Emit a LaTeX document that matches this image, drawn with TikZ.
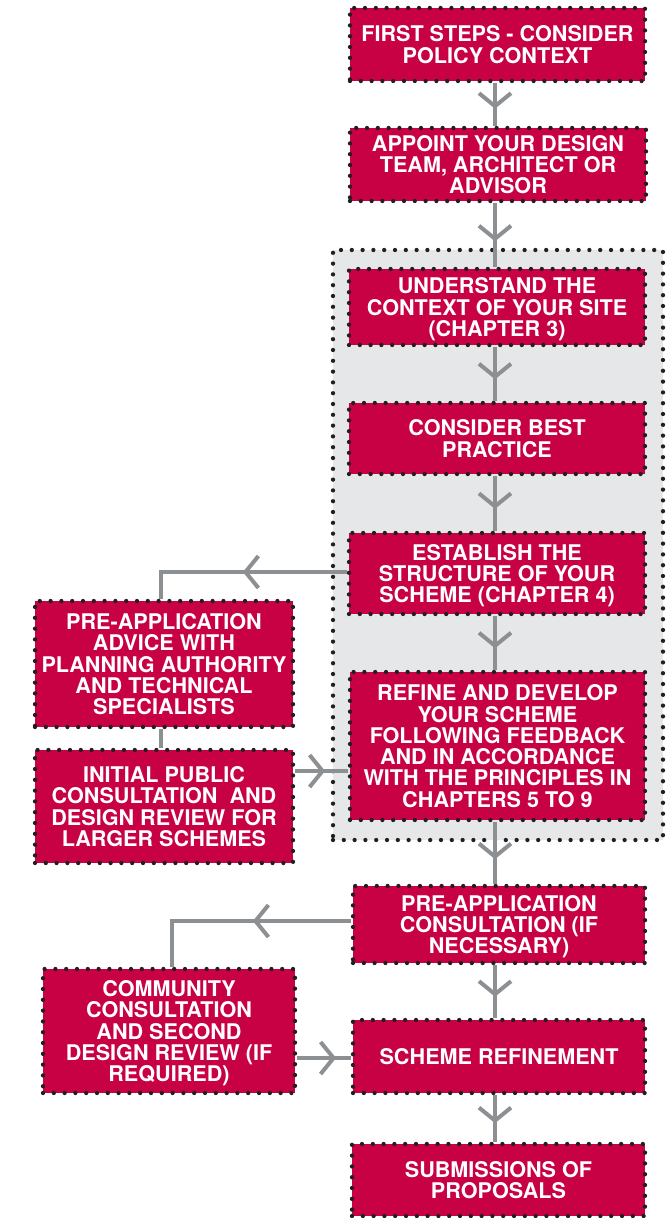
\documentclass[tikz,border=0pt]{standalone}
\usepackage{fontspec}
\setmainfont{TeX Gyre Heros}
\usetikzlibrary{arrows.meta,decorations.markings,calc}
\definecolor{crim}{RGB}{200,0,68}
\definecolor{lgray}{RGB}{141,144,146}
\definecolor{panelc}{RGB}{230,231,232}
\definecolor{dotc}{RGB}{35,31,32}
\tikzset{
  dotborder/.style={draw=dotc, line width=4.3pt, line cap=round, dash pattern=on 0pt off 10.8pt},
  stepbox/.style={dotborder, fill=crim, text=white, font=\bfseries\fontsize{21.6}{21.3}\selectfont, align=center, inner sep=0pt, text depth=0pt},
  conn/.style={draw=lgray, line width=4pt},
  chev/.style={postaction={decorate, decoration={markings, mark=at position #1 with {\arrow{Straight Barb[length=13pt,width=32pt]}}}}},
}
\begin{document}
\begin{tikzpicture}[x=1pt,y=-1pt]
\useasboundingbox (0,0) rectangle (670,1218);
\node[dotborder, fill=panelc, minimum width=330pt, minimum height=590pt, inner sep=0pt] (panel) at (498,545) {};
\coordinate (cx) at (495,0);
\node[stepbox, minimum width=295pt, minimum height=73pt] (B1) at (497.5,44.5) {FIRST STEPS - CONSIDER\\POLICY CONTEXT};
\node[stepbox, minimum width=296pt, minimum height=73pt] (B2) at (498,164.5) {APPOINT YOUR DESIGN\\TEAM, ARCHITECT OR\\ADVISOR};
\node[stepbox, minimum width=296pt, minimum height=76pt] (B3) at (497,307) {UNDERSTAND THE\\CONTEXT OF YOUR SITE\\(CHAPTER 3)};
\node[stepbox, minimum width=296pt, minimum height=71pt] (B4) at (497,438.5) {CONSIDER BEST\\PRACTICE};
\node[stepbox, minimum width=296pt, minimum height=81pt] (B5) at (497,573.5) {ESTABLISH THE\\STRUCTURE OF YOUR\\SCHEME (CHAPTER 4)};
\node[stepbox, minimum width=295pt, minimum height=148pt] (B6) at (497.5,746) {REFINE AND DEVELOP\\YOUR SCHEME\\FOLLOWING FEEDBACK\\AND IN ACCORDANCE\\WITH THE PRINCIPLES IN\\CHAPTERS 5 TO 9};
\node[stepbox, minimum width=292pt, minimum height=77pt] (B7) at (499,924.5) {PRE-APPLICATION\\CONSULTATION (IF\\NECESSARY)};
\node[stepbox, minimum width=292pt, minimum height=73pt] (B8) at (499,1056.5) {SCHEME REFINEMENT};
\node[stepbox, minimum width=293pt, minimum height=72pt] (B9) at (498.5,1180) {SUBMISSIONS OF\\PROPOSALS};
\node[stepbox, minimum width=258pt, minimum height=126pt] (L1) at (164,664) {PRE-APPLICATION\\ADVICE WITH\\PLANNING AUTHORITY\\AND TECHNICAL\\SPECIALISTS};
\node[stepbox, minimum width=258pt, minimum height=113pt] (L2) at (164,806.5) {INITIAL PUBLIC\\CONSULTATION\ \ AND\\DESIGN REVIEW FOR\\LARGER SCHEMES};
\node[stepbox, minimum width=252pt, minimum height=124pt] (L3) at (169,1031) {COMMUNITY\\CONSULTATION\\AND SECOND\\DESIGN REVIEW (IF\\REQUIRED)};
% main column connectors
\draw[conn, chev=0.6] (B1.south -| cx) -- (B2.north -| cx);
\draw[conn, chev=0.6] (B2.south -| cx) -- (B3.north -| cx);
\draw[conn, chev=0.6] (B3.south -| cx) -- (B4.north -| cx);
\draw[conn, chev=0.6] (B4.south -| cx) -- (B5.north -| cx);
\draw[conn, chev=0.6] (B5.south -| cx) -- (B6.north -| cx);
\draw[conn, chev=0.6] (B6.south -| cx) -- (B7.north -| cx);
\draw[conn, chev=0.6] (B7.south -| cx) -- (B8.north -| cx);
\draw[conn, chev=0.6] (B8.south -| cx) -- (B9.north -| cx);
% side branches
\coordinate (y1) at (0,572);
\coordinate (y2) at (0,771);
\coordinate (y3) at (0,921);
\coordinate (y4) at (0,1058);
\coordinate (x1) at (161,0);
\coordinate (x3) at (172,0);
\draw[conn, chev=104pt] (B5.west |- y1) -| (L1.north -| x1);
\draw[conn, chev=30pt] (L2.east |- y2) -- (B6.west |- y2);
\draw[conn] (L1.south -| x1) -- (L2.north -| x1);
\draw[conn, chev=98pt] (B7.west |- y3) -| (L3.north -| x3);
\draw[conn, chev=39pt] (L3.east |- y4) -- (B8.west |- y4);
\end{tikzpicture}
\end{document}
